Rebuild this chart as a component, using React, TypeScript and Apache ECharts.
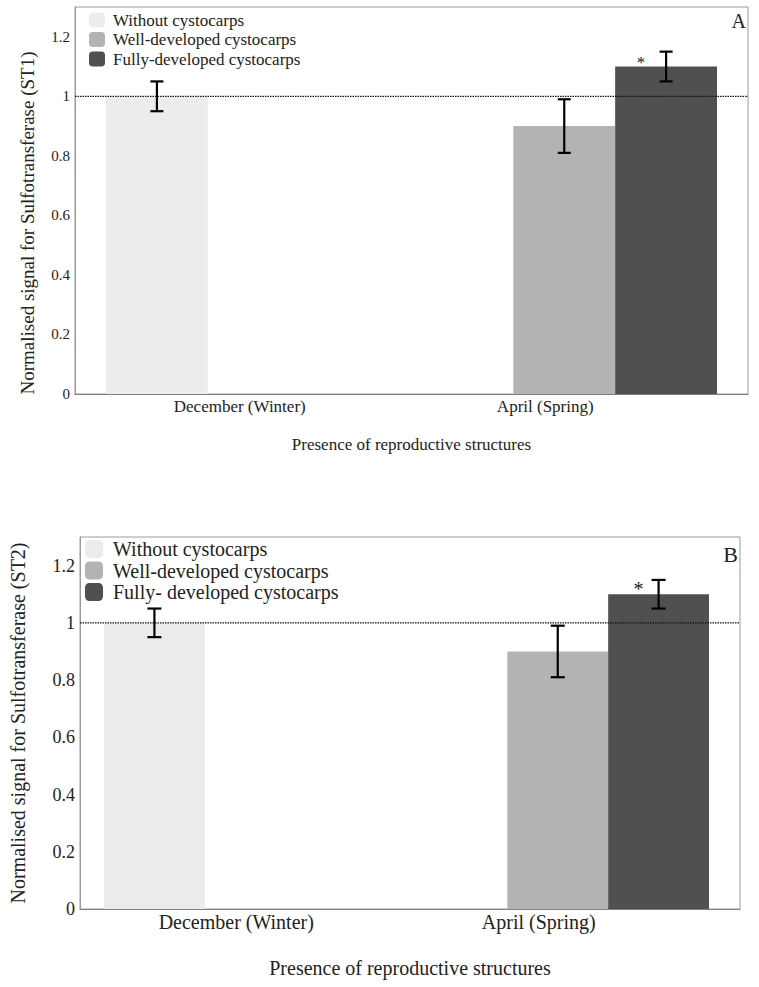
import React, { useEffect, useRef } from "react";
import * as echarts from "echarts";

// ---- Data ----
const categories = ["December (Winter)", "April (Spring)"];
const seriesNamesA = ["Without cystocarps", "Well-developed cystocarps", "Fully-developed cystocarps"];
const seriesNamesB = ["Without cystocarps", "Well-developed cystocarps", "Fully- developed cystocarps"];

const withoutA = [1.0, null];
const wellA = [null, 0.9];
const fullyA = [null, 1.1];
const withoutErrA = [0.05, null];
const wellErrA = [null, 0.09];
const fullyErrA = [null, 0.05];

const withoutB = [1.0, null];
const wellB = [null, 0.9];
const fullyB = [null, 1.1];
const withoutErrB = [0.05, null];
const wellErrB = [null, 0.09];
const fullyErrB = [null, 0.05];

const referenceLevel = 1;
const significantMark = "*";
const yAxisTitleA = "Normalised signal for Sulfotransferase (ST1)";
const yAxisTitleB = "Normalised signal for Sulfotransferase (ST2)";
const xAxisTitle = "Presence of reproductive structures";
const panelLabels = ["A", "B"];

const barColors = ["#ececec", "#b3b3b3", "#505050"];
const FONT = "Liberation Serif";

type Panel = {
  names: string[];
  values: (number | null)[][];
  errors: (number | null)[][];
  yTitle: string;
  frame: { left: number; top: number; right: number; bottom: number };
  bars: { left: number; right: number };
  font: number;
  tickFont: number;
  yNameFont: number;
  yNameGap: number;
  yNamePad: number[];
  xNameGap: number;
  labelMargin: number;
  labelPad: number[];
  starOffset: number[];
  capHalf: number;
};

const panels: Panel[] = [
  {
    names: seriesNamesA,
    values: [withoutA, wellA, fullyA],
    errors: [withoutErrA, wellErrA, fullyErrA],
    yTitle: yAxisTitleA,
    frame: { left: 75, top: 7, right: 11, bottom: 593 },
    bars: { left: 106, right: 42 },
    font: 17,
    tickFont: 15,
    yNameFont: 19,
    yNameGap: 38,
    yNamePad: [0, 45, 0, 0],
    xNameGap: 42,
    labelMargin: 4,
    labelPad: [0, 38, 0, 0],
    starOffset: [-25, 4],
    capHalf: 6.5,
  },
  {
    names: seriesNamesB,
    values: [withoutB, wellB, fullyB],
    errors: [withoutErrB, wellErrB, fullyErrB],
    yTitle: yAxisTitleB,
    frame: { left: 74, top: 537, right: 19, bottom: 78 },
    bars: { left: 104, right: 50 },
    font: 20,
    tickFont: 18,
    yNameFont: 20,
    yNameGap: 52,
    yNamePad: [0, 0, 0, 0],
    xNameGap: 49,
    labelMargin: 3,
    labelPad: [0, 38, 0, 0],
    starOffset: [-20, 5],
    capHalf: 7,
  },
];

function buildOption() {
  const grid: any[] = [];
  const xAxis: any[] = [];
  const yAxis: any[] = [];
  const series: any[] = [];
  const legend: any[] = [];

  panels.forEach((p, pi) => {
    const frameIdx = pi * 2;
    const barIdx = pi * 2 + 1;
    grid.push({
      left: p.frame.left,
      top: p.frame.top,
      right: p.frame.right,
      bottom: p.frame.bottom,
      show: true,
      borderColor: "#9a9a9a",
      borderWidth: 1,
      backgroundColor: "transparent",
    });
    grid.push({
      left: p.bars.left,
      top: p.frame.top,
      right: p.bars.right,
      bottom: p.frame.bottom,
    });

    // frame axes
    xAxis.push({
      type: "value",
      gridIndex: frameIdx,
      min: 0,
      max: 1,
      axisLine: { show: true, lineStyle: { color: "#808080", width: 1.2 } },
      axisTick: { show: false },
      axisLabel: { show: false },
      splitLine: { show: false },
      name: xAxisTitle,
      nameLocation: "middle",
      nameGap: p.xNameGap,
      nameTextStyle: { fontFamily: FONT, fontSize: p.font, color: "#222" },
    });
    yAxis.push({
      type: "value",
      gridIndex: frameIdx,
      min: 0,
      max: 1.3,
      interval: 0.2,
      axisLine: { show: true, lineStyle: { color: "#9a9a9a" } },
      axisTick: { show: false },
      splitLine: { show: false },
      axisLabel: {
        fontFamily: FONT,
        fontSize: p.tickFont,
        color: "#222",
        margin: 5,
        formatter: (v: number) => (v > 1.25 ? "" : String(+v.toFixed(1))),
      },
      name: p.yTitle,
      nameLocation: "middle",
      nameGap: p.yNameGap,
      nameTextStyle: {
        fontFamily: FONT,
        fontSize: p.yNameFont,
        color: "#222",
        padding: p.yNamePad,
      },
    });

    // bar axes
    xAxis.push({
      type: "category",
      gridIndex: barIdx,
      data: categories,
      axisLine: { show: false },
      axisTick: { show: false },
      axisLabel: {
        fontFamily: FONT,
        fontSize: p.font,
        color: "#222",
        margin: p.labelMargin,
        padding: p.labelPad,
      },
    });
    yAxis.push({
      type: "value",
      gridIndex: barIdx,
      min: 0,
      max: 1.3,
      interval: 0.2,
      show: false,
      splitLine: { show: false },
    });

    // bars
    p.names.forEach((name, si) => {
      series.push({
        type: "bar",
        name,
        xAxisIndex: barIdx,
        yAxisIndex: barIdx,
        barGap: "0%",
        barCategoryGap: "0%",
        itemStyle: { color: barColors[si] },
        data: p.values[si].map((v, ci) => {
          if (v === null) return null;
          if (si === 2 && ci === 1) {
            return {
              value: v,
              label: {
                show: true,
                position: "top",
                distance: 0,
                formatter: significantMark,
                offset: p.starOffset,
                fontFamily: FONT,
                fontSize: p.font,
                color: "#222",
              },
            };
          }
          return v;
        }),
        z: 2,
      });
    });

    // reference line
    series.push({
      type: "line",
      xAxisIndex: frameIdx,
      yAxisIndex: frameIdx,
      data: [
        [0, referenceLevel],
        [1, referenceLevel],
      ],
      symbol: "none",
      silent: true,
      lineStyle: { type: [1.5, 1], color: "#111", width: 1.3 },
      z: 5,
    });

    // error bars
    const errData: number[][] = [];
    p.values.forEach((vals, si) => {
      vals.forEach((v, ci) => {
        const e = p.errors[si][ci];
        if (v !== null && e !== null) errData.push([ci, v - e, v + e, si]);
      });
    });
    const capHalf = p.capHalf;
    series.push({
      type: "custom",
      xAxisIndex: barIdx,
      yAxisIndex: barIdx,
      data: errData,
      encode: { x: 0, y: [1, 2] },
      z: 6,
      silent: true,
      renderItem: (params: any, api: any) => {
        const ci = api.value(0);
        const lo = api.value(1);
        const hi = api.value(2);
        const si = api.value(3);
        const band = api.size([1, 0])[0];
        const bw = band / 3;
        const cx = api.coord([ci, 0])[0] + (si - 1) * bw;
        const yLo = api.coord([ci, lo])[1];
        const yHi = api.coord([ci, hi])[1];
        const style = { stroke: "#000", lineWidth: 2.2 };
        return {
          type: "group",
          children: [
            { type: "line", shape: { x1: cx, y1: yLo, x2: cx, y2: yHi }, style },
            { type: "line", shape: { x1: cx - capHalf, y1: yHi, x2: cx + capHalf, y2: yHi }, style },
            { type: "line", shape: { x1: cx - capHalf, y1: yLo, x2: cx + capHalf, y2: yLo }, style },
          ],
        };
      },
    });
  });

  legend.push({
    orient: "vertical",
    left: 89,
    top: 11.5,
    padding: 0,
    itemWidth: 16,
    itemHeight: 15,
    itemGap: 2.5,
    icon: "roundRect",
    selectedMode: false,
    data: seriesNamesA,
    textStyle: { fontFamily: FONT, fontSize: 17, color: "#222", lineHeight: 17, padding: [0, 0, 0, 3] },
  });
  legend.push({
    orient: "vertical",
    left: 85,
    top: 539,
    padding: 0,
    itemWidth: 18,
    itemHeight: 18,
    itemGap: 1.5,
    icon: "roundRect",
    selectedMode: false,
    data: seriesNamesB,
    textStyle: { fontFamily: FONT, fontSize: 20, color: "#222", lineHeight: 20, padding: [0, 0, 0, 5] },
  });

  const title = [
    {
      text: panelLabels[0],
      right: 13,
      top: 11,
      padding: 0,
      textStyle: { fontFamily: FONT, fontSize: 20, fontWeight: "normal", color: "#222" },
    },
    {
      text: panelLabels[1],
      right: 21,
      top: 543,
      padding: 0,
      textStyle: { fontFamily: FONT, fontSize: 22, fontWeight: "normal", color: "#222" },
    },
  ];

  return {
    animation: false,
    backgroundColor: "#fff",
    textStyle: { fontFamily: FONT },
    title,
    legend,
    grid,
    xAxis,
    yAxis,
    series,
  };
}

export default function App() {
  const ref = useRef<HTMLDivElement>(null);
  useEffect(() => {
    if (!ref.current) return;
    const chart = echarts.init(ref.current, undefined, { renderer: "svg" });
    chart.setOption(buildOption() as any);
    return () => chart.dispose();
  }, []);
  return (
    <div
      ref={ref}
      style={{ position: "absolute", left: 0, top: 0, width: 759, height: 987, background: "#fff" }}
    />
  );
}
